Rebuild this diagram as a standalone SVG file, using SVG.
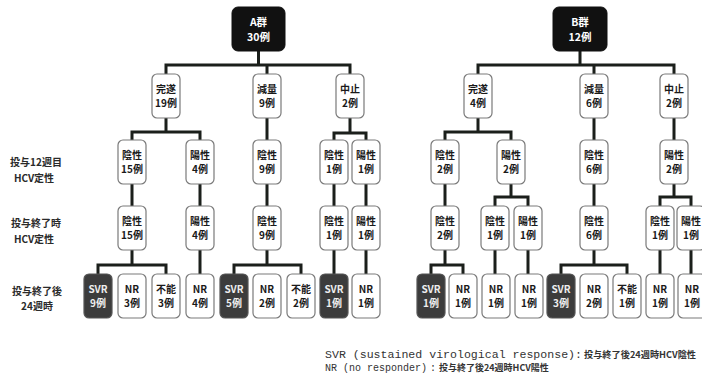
<svg xmlns="http://www.w3.org/2000/svg" width="702" height="383" viewBox="0 0 702 383">
<style>
.bg{fill:#ffffff}
.n rect{fill:#ffffff;stroke:#7a7a7a;stroke-width:1.2}
.n text{font-family:"Noto Sans CJK JP","Liberation Sans",sans-serif;font-size:10px;fill:#1a1a1a;text-anchor:middle;font-weight:bold}
.d rect{fill:#3c3c3c;stroke:#555;stroke-width:1.2}
.d text{fill:#eeeeee}
.t rect{fill:#111111;stroke:#111;stroke-width:1}
.t text{font-family:"Noto Sans CJK JP","Liberation Sans",sans-serif;font-size:10.5px;fill:#fff;text-anchor:middle;font-weight:bold}
.c{fill:none;stroke:#1b1f1b;stroke-width:3;stroke-linejoin:miter;stroke-linecap:square}
.lab{font-family:"Noto Sans CJK JP","Liberation Sans",sans-serif;font-size:10px;fill:#2a2a2a;text-anchor:middle;font-weight:bold}
.leg{font-family:"Liberation Mono",monospace;font-size:10px;fill:#333}
.legj{font-family:"Noto Sans CJK JP","Liberation Sans",sans-serif;font-size:9px;fill:#333;font-weight:bold}
</style>
<rect class="bg" width="702" height="383"/>

<g id="connectors">
<path class="c" d="M258.5 51V65M166 74V65H350V74M267 65V74"/>
<path class="c" d="M166 118V132M132 140V132H200V140"/>
<path class="c" d="M267 118V140"/>
<path class="c" d="M350 118V133M334 140V133H366V140"/>
<path class="c" d="M132 184V206M200 184V206M267 184V206M334 184V206M366 184V206"/>
<path class="c" d="M132 250V265M98 274V265H166V274"/>
<path class="c" d="M200 250V274"/>
<path class="c" d="M267 250V265M234 274V265H301V274"/>
<path class="c" d="M334 250V274M366 250V274"/>
<path class="c" d="M580 51V65M478 74V65H674V74M594 65V74"/>
<path class="c" d="M478 118V132M445 140V132H511V140"/>
<path class="c" d="M594 118V140M674 118V140"/>
<path class="c" d="M445 184V206"/>
<path class="c" d="M511 184V197M495 206V197H528V206"/>
<path class="c" d="M594 184V206"/>
<path class="c" d="M674 184V197M660 206V197H691V206"/>
<path class="c" d="M445 250V265M431 274V265H463V274"/>
<path class="c" d="M495 250V274M528 250V274"/>
<path class="c" d="M594 250V265M561 274V265H627V274"/>
<path class="c" d="M660 250V274M691 250V274"/>
</g>

<g id="A" class="t"><rect x="232" y="7" width="53" height="44" rx="6"/><text x="258.5" y="26">A群</text><text x="258.5" y="41">30例</text></g>
<g id="B" class="t"><rect x="553" y="7" width="54" height="44" rx="6"/><text x="580" y="26">B群</text><text x="580" y="41">12例</text></g>

<g id="A1" class="n"><rect x="152" y="74" width="28" height="44" rx="5"/><text x="166" y="92.5">完遂</text><text x="166" y="107">19例</text></g>
<g id="A2" class="n"><rect x="253" y="74" width="28" height="44" rx="5"/><text x="267" y="92.5">減量</text><text x="267" y="107">9例</text></g>
<g id="A3" class="n"><rect x="336" y="74" width="28" height="44" rx="5"/><text x="350" y="92.5">中止</text><text x="350" y="107">2例</text></g>
<g id="B1" class="n"><rect x="464" y="74" width="28" height="44" rx="5"/><text x="478" y="92.5">完遂</text><text x="478" y="107">4例</text></g>
<g id="B2" class="n"><rect x="580" y="74" width="28" height="44" rx="5"/><text x="594" y="92.5">減量</text><text x="594" y="107">6例</text></g>
<g id="B3" class="n"><rect x="660" y="74" width="28" height="44" rx="5"/><text x="674" y="92.5">中止</text><text x="674" y="107">2例</text></g>

<g id="A11" class="n"><rect x="118" y="140" width="28" height="44" rx="5"/><text x="132" y="158.5">陰性</text><text x="132" y="173">15例</text></g>
<g id="A12" class="n"><rect x="186" y="140" width="28" height="44" rx="5"/><text x="200" y="158.5">陽性</text><text x="200" y="173">4例</text></g>
<g id="A21" class="n"><rect x="253" y="140" width="28" height="44" rx="5"/><text x="267" y="158.5">陰性</text><text x="267" y="173">9例</text></g>
<g id="A31" class="n"><rect x="320" y="140" width="28" height="44" rx="5"/><text x="334" y="158.5">陰性</text><text x="334" y="173">1例</text></g>
<g id="A32" class="n"><rect x="352" y="140" width="28" height="44" rx="5"/><text x="366" y="158.5">陽性</text><text x="366" y="173">1例</text></g>
<g id="B11" class="n"><rect x="431" y="140" width="28" height="44" rx="5"/><text x="445" y="158.5">陰性</text><text x="445" y="173">2例</text></g>
<g id="B12" class="n"><rect x="497" y="140" width="28" height="44" rx="5"/><text x="511" y="158.5">陽性</text><text x="511" y="173">2例</text></g>
<g id="B21" class="n"><rect x="580" y="140" width="28" height="44" rx="5"/><text x="594" y="158.5">陰性</text><text x="594" y="173">6例</text></g>
<g id="B31" class="n"><rect x="660" y="140" width="28" height="44" rx="5"/><text x="674" y="158.5">陽性</text><text x="674" y="173">2例</text></g>

<g id="A11e" class="n"><rect x="118" y="206" width="28" height="44" rx="5"/><text x="132" y="224.5">陰性</text><text x="132" y="239">15例</text></g>
<g id="A12e" class="n"><rect x="186" y="206" width="28" height="44" rx="5"/><text x="200" y="224.5">陽性</text><text x="200" y="239">4例</text></g>
<g id="A21e" class="n"><rect x="253" y="206" width="28" height="44" rx="5"/><text x="267" y="224.5">陰性</text><text x="267" y="239">9例</text></g>
<g id="A31e" class="n"><rect x="320" y="206" width="28" height="44" rx="5"/><text x="334" y="224.5">陰性</text><text x="334" y="239">1例</text></g>
<g id="A32e" class="n"><rect x="352" y="206" width="28" height="44" rx="5"/><text x="366" y="224.5">陽性</text><text x="366" y="239">1例</text></g>
<g id="B11e" class="n"><rect x="431" y="206" width="28" height="44" rx="5"/><text x="445" y="224.5">陰性</text><text x="445" y="239">2例</text></g>
<g id="B12a" class="n"><rect x="481" y="206" width="28" height="44" rx="5"/><text x="495" y="224.5">陰性</text><text x="495" y="239">1例</text></g>
<g id="B12b" class="n"><rect x="514" y="206" width="28" height="44" rx="5"/><text x="528" y="224.5">陽性</text><text x="528" y="239">1例</text></g>
<g id="B21e" class="n"><rect x="580" y="206" width="28" height="44" rx="5"/><text x="594" y="224.5">陰性</text><text x="594" y="239">6例</text></g>
<g id="B31a" class="n"><rect x="646" y="206" width="28" height="44" rx="5"/><text x="660" y="224.5">陰性</text><text x="660" y="239">1例</text></g>
<g id="B31b" class="n"><rect x="677" y="206" width="28" height="44" rx="5"/><text x="691" y="224.5">陽性</text><text x="691" y="239">1例</text></g>

<g id="A4a" class="n d"><rect x="84" y="274" width="28" height="44" rx="5"/><text x="98" y="292.5">SVR</text><text x="98" y="307">9例</text></g>
<g id="A4b" class="n"><rect x="118" y="274" width="28" height="44" rx="5"/><text x="132" y="292.5">NR</text><text x="132" y="307">3例</text></g>
<g id="A4c" class="n"><rect x="152" y="274" width="28" height="44" rx="5"/><text x="166" y="292.5">不能</text><text x="166" y="307">3例</text></g>
<g id="A4d" class="n"><rect x="186" y="274" width="28" height="44" rx="5"/><text x="200" y="292.5">NR</text><text x="200" y="307">4例</text></g>
<g id="A4e" class="n d"><rect x="220" y="274" width="28" height="44" rx="5"/><text x="234" y="292.5">SVR</text><text x="234" y="307">5例</text></g>
<g id="A4f" class="n"><rect x="253" y="274" width="28" height="44" rx="5"/><text x="267" y="292.5">NR</text><text x="267" y="307">2例</text></g>
<g id="A4g" class="n"><rect x="287" y="274" width="28" height="44" rx="5"/><text x="301" y="292.5">不能</text><text x="301" y="307">2例</text></g>
<g id="A4h" class="n d"><rect x="320" y="274" width="28" height="44" rx="5"/><text x="334" y="292.5">SVR</text><text x="334" y="307">1例</text></g>
<g id="A4i" class="n"><rect x="352" y="274" width="28" height="44" rx="5"/><text x="366" y="292.5">NR</text><text x="366" y="307">1例</text></g>
<g id="B4a" class="n d"><rect x="417" y="274" width="28" height="44" rx="5"/><text x="431" y="292.5">SVR</text><text x="431" y="307">1例</text></g>
<g id="B4b" class="n"><rect x="449" y="274" width="28" height="44" rx="5"/><text x="463" y="292.5">NR</text><text x="463" y="307">1例</text></g>
<g id="B4c" class="n"><rect x="482" y="274" width="28" height="44" rx="5"/><text x="496" y="292.5">NR</text><text x="496" y="307">1例</text></g>
<g id="B4d" class="n"><rect x="515" y="274" width="28" height="44" rx="5"/><text x="529" y="292.5">NR</text><text x="529" y="307">1例</text></g>
<g id="B4e" class="n d"><rect x="547" y="274" width="28" height="44" rx="5"/><text x="561" y="292.5">SVR</text><text x="561" y="307">3例</text></g>
<g id="B4f" class="n"><rect x="580" y="274" width="28" height="44" rx="5"/><text x="594" y="292.5">NR</text><text x="594" y="307">2例</text></g>
<g id="B4g" class="n"><rect x="613" y="274" width="28" height="44" rx="5"/><text x="627" y="292.5">不能</text><text x="627" y="307">1例</text></g>
<g id="B4h" class="n"><rect x="646" y="274" width="28" height="44" rx="5"/><text x="660" y="292.5">NR</text><text x="660" y="307">1例</text></g>
<g id="B4i" class="n"><rect x="678" y="274" width="28" height="44" rx="5"/><text x="692" y="292.5">NR</text><text x="692" y="307">1例</text></g>

<g id="labels">
<text class="lab" x="36" y="166">投与12週目</text>
<text class="lab" x="34" y="182">HCV定性</text>
<text class="lab" x="36" y="227">投与終了時</text>
<text class="lab" x="34" y="243">HCV定性</text>
<text class="lab" x="37" y="295">投与終了後</text>
<text class="lab" x="37" y="310">24週時</text>
</g>

<g id="legend">
<text class="leg" x="325" y="358" textLength="257" lengthAdjust="spacingAndGlyphs">SVR (sustained virological response):</text>
<text class="legj" x="584" y="358" textLength="112" lengthAdjust="spacingAndGlyphs">投与終了後24週時HCV陰性</text>
<text class="leg" x="325" y="371">NR</text>
<text class="leg" x="343" y="371">(no responder)</text>
<text class="leg" x="430" y="371">:</text>
<text class="legj" x="439" y="371">投与終了後24週時HCV陽性</text>
</g>
</svg>
